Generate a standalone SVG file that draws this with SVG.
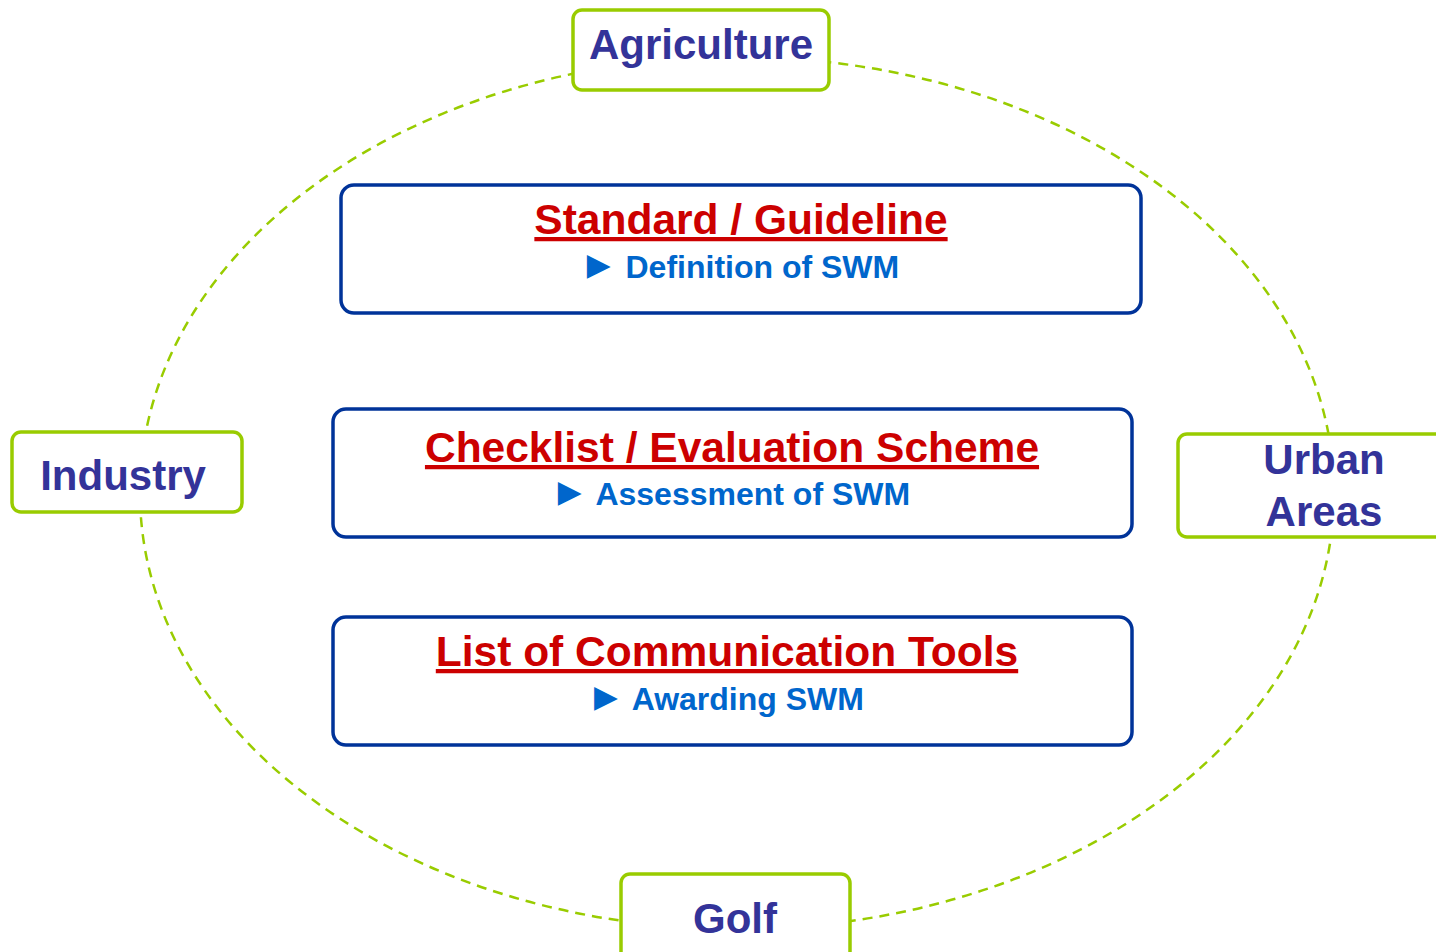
<svg xmlns="http://www.w3.org/2000/svg" width="1436" height="952" viewBox="0 0 1436 952">
<style>
.ring{fill:none;stroke:#99cc00;stroke-width:2.5;stroke-dasharray:10 7}
.gbox{fill:#fff;stroke:#99cc00;stroke-width:3.5}
.bbox{fill:#fff;stroke:#003399;stroke-width:3.5}
.lbl{font-family:"Liberation Sans",Arial,sans-serif;font-weight:bold;font-size:42px;fill:#333399;text-anchor:middle}
.ttl{font-family:"Liberation Sans",Arial,sans-serif;font-weight:bold;font-size:42.5px;fill:#cc0000;text-anchor:middle;text-decoration:underline}
.sub{font-family:"Liberation Sans",Arial,"DejaVu Sans",sans-serif;font-weight:bold;font-size:32px;fill:#0066cc;text-anchor:middle}
.tri{font-family:"DejaVu Sans",sans-serif;font-size:31px;font-weight:normal}
</style>
<rect width="1436" height="952" fill="#fff"/>
<g id="connectors">
<ellipse class="ring" cx="737" cy="493" rx="597" ry="436"/>
</g>
<g id="agriculture">
<rect class="gbox" x="573" y="10" width="256" height="80" rx="9"/>
<text class="lbl" x="701" y="59">Agriculture</text>
</g>
<g id="industry">
<rect class="gbox" x="12" y="432" width="230" height="80" rx="9"/>
<text class="lbl" x="123" y="490">Industry</text>
</g>
<g id="urban">
<rect class="gbox" x="1178" y="434" width="270" height="103" rx="9"/>
<text class="lbl" x="1324" y="474">Urban</text>
<text class="lbl" x="1324" y="526">Areas</text>
</g>
<g id="golf">
<rect class="gbox" x="621" y="874" width="229" height="90" rx="9"/>
<text class="lbl" x="735" y="933">Golf</text>
</g>
<g id="standard">
<rect class="bbox" x="341" y="185" width="800" height="128" rx="13"/>
<text class="ttl" x="741" y="234">Standard / Guideline</text>
<text class="sub" x="743" y="278"><tspan class="tri" dy="-3">▶</tspan><tspan dx="6" dy="3"> Definition of SWM</tspan></text>
</g>
<g id="checklist">
<rect class="bbox" x="333" y="409" width="799" height="128" rx="13"/>
<text class="ttl" x="732" y="462">Checklist / Evaluation Scheme</text>
<text class="sub" x="734" y="505"><tspan class="tri" dy="-3">▶</tspan><tspan dx="6" dy="3"> Assessment of SWM</tspan></text>
</g>
<g id="tools">
<rect class="bbox" x="333" y="617" width="799" height="128" rx="13"/>
<text class="ttl" x="727" y="666">List of Communication Tools</text>
<text class="sub" x="729" y="710"><tspan class="tri" dy="-3">▶</tspan><tspan dx="6" dy="3"> Awarding SWM</tspan></text>
</g>
</svg>
